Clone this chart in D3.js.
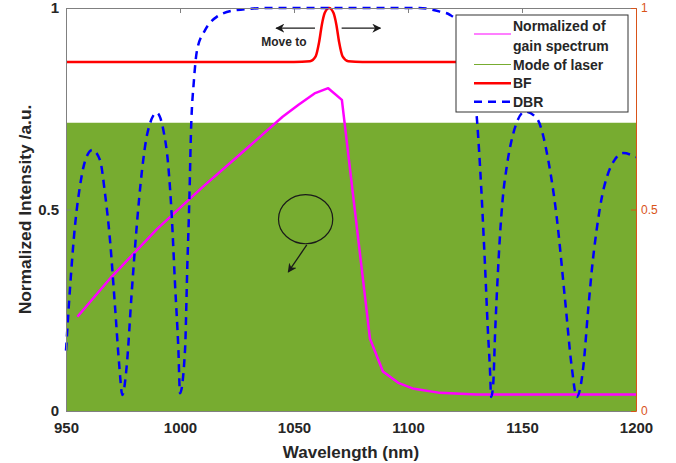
<!DOCTYPE html>
<html>
<head>
<meta charset="utf-8">
<script src="https://cdn.jsdelivr.net/npm/d3@7"></script>
<style>
  body { margin: 0; background: #fff; }
  text { font-family: "Liberation Sans", Arial, Helvetica, sans-serif; }
</style>
</head>
<body>
<svg id="chart" width="676" height="463"></svg>
<script>
// ---- data ----
const xTicks = [950, 1000, 1050, 1100, 1150, 1200];
const yTicks = [0, 0.5, 1];
const yTickLabels = ["0", "0.5", "1"];

// normalized gain spectrum (magenta)
const gainNm  = [955, 970, 990, 1010, 1030, 1045, 1052, 1059, 1065, 1071, 1083.3, 1089, 1096, 1102, 1114, 1130, 1200];
const gainVal = [0.234, 0.333, 0.452, 0.556, 0.655, 0.730, 0.760, 0.788, 0.801, 0.772, 0.180, 0.098, 0.069, 0.056, 0.045, 0.041, 0.041];

// laser modes (green band)
const modeNm  = [950, 1200];
const modeVal = [0.715, 0.715];

// band filter (red)
const bfNm  = [950, 1050, 1057, 1059.5, 1061, 1062.2, 1063.5, 1065.4, 1067.3, 1068.6, 1069.8, 1071.3, 1073.8, 1080, 1180];
const bfVal = [0.866, 0.866, 0.868, 0.880, 0.915, 0.958, 0.988, 1.0, 0.988, 0.958, 0.915, 0.880, 0.868, 0.866, 0.866];

// DBR reflectance (blue dashed)
const dbrNm  = [950, 951.8, 953.9, 956.1, 958.3, 961.5, 964.9, 967.1, 969.3, 971.5, 973.4, 974.7, 976.6, 978.8, 981.0, 983.2, 985.7, 989.8, 992.7, 994.9, 996.4, 997.8, 999.3, 1000.0, 1002.2, 1003.2, 1004.1, 1004.8, 1006.1, 1007.5, 1011, 1016.1, 1024.9, 1039.5, 1105, 1114, 1118.4, 1123, 1126.5, 1128.5, 1130.1, 1131.6, 1133.8, 1135.1, 1135.9, 1136.5, 1137.4, 1138.2, 1139.2, 1140.4, 1141.5, 1143.3, 1146.2, 1151.3, 1156.4, 1161.5, 1165.2, 1168.9, 1171.8, 1174.0, 1176.9, 1179, 1181, 1183, 1185, 1187.5, 1190.5, 1194.4, 1200];
const dbrVal = [0.15, 0.308, 0.457, 0.557, 0.619, 0.648, 0.623, 0.540, 0.424, 0.259, 0.110, 0.040, 0.110, 0.292, 0.457, 0.590, 0.689, 0.740, 0.697, 0.606, 0.482, 0.317, 0.151, 0.044, 0.151, 0.358, 0.524, 0.690, 0.820, 0.896, 0.945, 0.978, 0.995, 1.0, 1.0, 0.991, 0.983, 0.955, 0.900, 0.820, 0.734, 0.606, 0.358, 0.193, 0.110, 0.035, 0.069, 0.193, 0.317, 0.441, 0.524, 0.606, 0.689, 0.743, 0.727, 0.623, 0.482, 0.275, 0.110, 0.035, 0.110, 0.250, 0.370, 0.460, 0.530, 0.585, 0.622, 0.640, 0.630];

const legendLabels = [["Normalized of", "gain spectrum"], ["Mode of laser"], ["BF"], ["DBR"]];

// ---- layout ----
const W = 676, H = 463;
const plot = { left: 66, right: 636, top: 8, bottom: 411 };
const colors = { gain: "#ff00ff", mode: "#77ac30", bf: "#ff0000", dbr: "#0000ff", axis: "#808080", text: "#262626", right: "#d95319" };

const svg = d3.select("#chart");
svg.append("rect").attr("width", W).attr("height", H).attr("fill", "#fff");

const x = d3.scaleLinear().domain([950, 1200]).range([plot.left, plot.right]);
const y = d3.scaleLinear().domain([0, 1]).range([plot.bottom, plot.top]);

const zip = (a, b) => a.map((v, i) => [v, b[i]]);

// bottom axis (sits beneath the data)
const gx = svg.append("g")
  .attr("transform", `translate(0,${plot.bottom})`)
  .call(d3.axisBottom(x).tickValues(xTicks).tickSizeInner(-5).tickSizeOuter(0).tickFormat(d3.format("d")));
gx.select(".domain").attr("stroke", colors.axis);
gx.selectAll(".tick line").attr("stroke", colors.axis);
gx.selectAll(".tick text")
  .attr("y", 17).attr("dy", "0.35em")
  .attr("fill", colors.text).attr("font-size", 15).attr("font-weight", "bold")
  .attr("font-family", "'Liberation Sans', Arial, sans-serif");

// green laser-mode band
const modeArea = d3.area().x(d => x(d[0])).y0(y(0)).y1(d => y(d[1]));
svg.append("path").datum(zip(modeNm, modeVal))
  .attr("d", modeArea).attr("fill", colors.mode);

// gain spectrum
const lin = d3.line().x(d => x(d[0])).y(d => y(d[1]));
svg.append("path").datum(zip(gainNm, gainVal))
  .attr("d", lin).attr("fill", "none").attr("stroke", colors.gain)
  .attr("stroke-width", 2.5).attr("stroke-linejoin", "round");

// band filter
const smooth = d3.line().x(d => x(d[0])).y(d => y(d[1])).curve(d3.curveMonotoneX);
svg.append("path").datum(zip(bfNm, bfVal))
  .attr("d", smooth).attr("fill", "none").attr("stroke", colors.bf)
  .attr("stroke-width", 2.5);

// DBR reflectance
svg.append("path").datum(zip(dbrNm, dbrVal))
  .attr("d", smooth).attr("fill", "none").attr("stroke", colors.dbr)
  .attr("stroke-width", 2.5).attr("stroke-dasharray", "8,6");

// left axis
const gy = svg.append("g")
  .attr("transform", `translate(${plot.left},0)`)
  .call(d3.axisLeft(y).tickValues(yTicks).tickSizeInner(-5).tickSizeOuter(0).tickFormat((d, i) => yTickLabels[i]));
gy.select(".domain").attr("stroke", colors.axis);
gy.selectAll(".tick line").attr("stroke", colors.axis);
gy.selectAll(".tick text")
  .attr("x", -7).attr("fill", colors.text).attr("font-size", 15).attr("font-weight", "bold")
  .attr("font-family", "'Liberation Sans', Arial, sans-serif");

// top frame
const gt = svg.append("g")
  .attr("transform", `translate(0,${plot.top})`)
  .call(d3.axisTop(x).tickValues(xTicks).tickSizeInner(-5).tickSizeOuter(0).tickFormat(""));
gt.select(".domain").attr("stroke", colors.axis);
gt.selectAll(".tick line").attr("stroke", colors.axis);

// right axis (orange)
const gr = svg.append("g")
  .attr("transform", `translate(${plot.right},0)`)
  .call(d3.axisRight(y).tickValues(yTicks).tickSizeInner(-5).tickSizeOuter(0).tickFormat((d, i) => yTickLabels[i]));
gr.select(".domain").attr("stroke", colors.right);
gr.selectAll(".tick line").attr("stroke", colors.right);
gr.selectAll(".tick text")
  .attr("x", 5).attr("fill", colors.right).attr("font-size", 12)
  .attr("font-family", "'Liberation Sans', Arial, sans-serif");

// axis titles
svg.append("text")
  .attr("x", (plot.left + plot.right) / 2).attr("y", 452).attr("dy", "0.35em")
  .attr("text-anchor", "middle").attr("font-size", 17).attr("font-weight", "bold")
  .attr("fill", colors.text).text("Wavelength (nm)");
svg.append("text")
  .attr("transform", `translate(25,${(plot.top + plot.bottom) / 2}) rotate(-90)`)
  .attr("dy", "0.35em").attr("text-anchor", "middle").attr("font-size", 17.4)
  .attr("font-weight", "bold")
  .attr("fill", colors.text).text("Normalized Intensity /a.u.");

// annotations: filter shift arrows and the marked gain region
const defs = svg.append("defs");
defs.append("marker").attr("id", "head")
  .attr("viewBox", "0 0 10 10").attr("refX", 9).attr("refY", 5)
  .attr("markerWidth", 9).attr("markerHeight", 9).attr("markerUnits", "userSpaceOnUse")
  .attr("orient", "auto")
  .append("path").attr("d", "M0,0 L10,5 L0,10 L3,5 Z").attr("fill", "#1a1a1a");

const arrows = [
  { from: [1059.2, 0.95], to: [1042.2, 0.95] },
  { from: [1070.9, 0.95], to: [1087.9, 0.95] },
  { from: [1055.6, 0.412], to: [1047.5, 0.345] }
];
svg.selectAll(".ann-arrow").data(arrows).join("line")
  .attr("class", "ann-arrow")
  .attr("x1", d => x(d.from[0])).attr("y1", d => y(d.from[1]))
  .attr("x2", d => x(d.to[0])).attr("y2", d => y(d.to[1]))
  .attr("stroke", "#1a1a1a").attr("stroke-width", 1.3)
  .attr("marker-end", "url(#head)");

svg.append("text")
  .attr("x", x(1045.6)).attr("y", y(0.916)).attr("dy", "0.35em")
  .attr("text-anchor", "middle").attr("font-size", 12).attr("font-weight", "bold")
  .attr("fill", colors.text).text("Move to");

svg.append("ellipse")
  .attr("cx", x(1055.1)).attr("cy", y(0.476))
  .attr("rx", x(1055.1 + 11.9) - x(1055.1)).attr("ry", y(0) - y(0.061))
  .attr("fill", "none").attr("stroke", "#1a1a1a").attr("stroke-width", 1.2);

// legend
const lg = svg.append("g").attr("transform", "translate(456,15)");
lg.append("rect").attr("width", 172).attr("height", 97)
  .attr("fill", "#fff").attr("stroke", "#333").attr("stroke-width", 1);
const entries = [
  { color: colors.gain, width: 1.2, dash: null, lineY: 19, textY: [11, 31.5] },
  { color: colors.mode, width: 1.2, dash: null, lineY: 49.5, textY: [50] },
  { color: colors.bf, width: 2.5, dash: null, lineY: 68.3, textY: [68.5] },
  { color: colors.dbr, width: 2.5, dash: "8,6", lineY: 86.7, textY: [87] }
];
entries.forEach((e, i) => {
  lg.append("line").attr("x1", 18).attr("x2", 55).attr("y1", e.lineY).attr("y2", e.lineY)
    .attr("stroke", e.color).attr("stroke-width", e.width)
    .attr("stroke-dasharray", e.dash);
  legendLabels[i].forEach((t, j) => {
    lg.append("text").attr("x", 57).attr("y", e.textY[j]).attr("dy", "0.35em")
      .attr("font-size", 14).attr("font-weight", "bold").attr("fill", colors.text).text(t);
  });
});
</script>
</body>
</html>
